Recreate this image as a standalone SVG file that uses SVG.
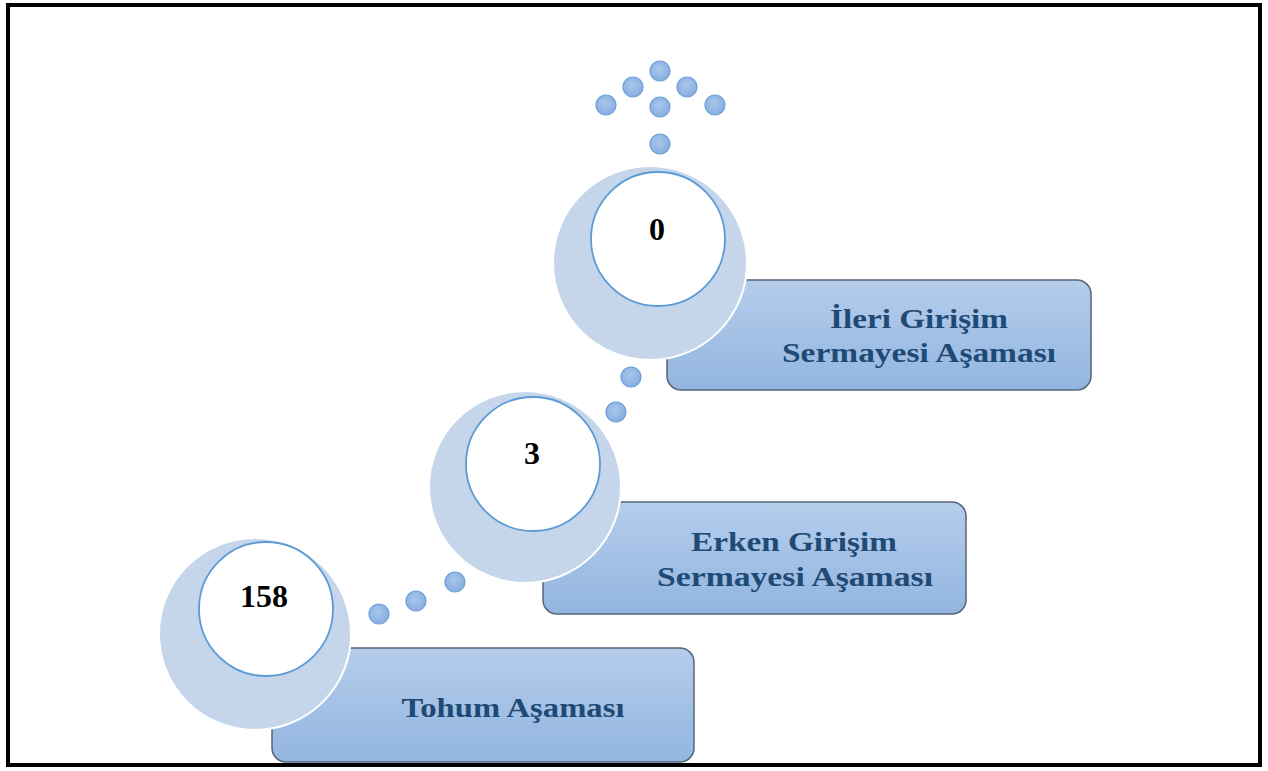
<svg xmlns="http://www.w3.org/2000/svg" width="1268" height="771" viewBox="0 0 1268 771">
  <defs>
    <linearGradient id="boxGrad" x1="0" y1="0" x2="0" y2="1">
      <stop offset="0" stop-color="#b5cdeb"/>
      <stop offset="1" stop-color="#92b5e0"/>
    </linearGradient>
    <radialGradient id="dotGrad" cx="0.45" cy="0.4" r="0.6">
      <stop offset="0" stop-color="#a9c7ec"/>
      <stop offset="1" stop-color="#86ade0"/>
    </radialGradient>
  </defs>
  <style>
    .frame { fill: #ffffff; stroke: #000000; stroke-width: 4; }
    .box { fill: url(#boxGrad); stroke: #56667a; stroke-width: 1.5; }
    .outer { fill: #c5d6eb; stroke: #ffffff; stroke-width: 2; }
    .inner { fill: #ffffff; stroke: #5b9bd5; stroke-width: 1.8; }
    .dot { fill: url(#dotGrad); stroke: #6b9fd8; stroke-width: 1.2; }
    .num { font-family: "Liberation Serif", "Times New Roman", serif; font-weight: bold; font-size: 32px; fill: #000000; text-anchor: middle; }
    .lbl { font-family: "Liberation Serif", "Times New Roman", serif; font-weight: bold; font-size: 28px; fill: #1f4a75; text-anchor: middle; }
  </style>

  <rect class="frame" x="8" y="5" width="1252" height="760"/>

  <g id="dots">
    <circle class="dot" cx="660" cy="71" r="10"/>
    <circle class="dot" cx="633" cy="87" r="10"/>
    <circle class="dot" cx="687" cy="87" r="10"/>
    <circle class="dot" cx="606" cy="105" r="10"/>
    <circle class="dot" cx="660" cy="107" r="10"/>
    <circle class="dot" cx="715" cy="105" r="10"/>
    <circle class="dot" cx="660" cy="144" r="10"/>
    <circle class="dot" cx="631" cy="377" r="10"/>
    <circle class="dot" cx="616" cy="412" r="10"/>
    <circle class="dot" cx="455" cy="582" r="10"/>
    <circle class="dot" cx="416" cy="601" r="10"/>
    <circle class="dot" cx="379" cy="614" r="10"/>
  </g>

  <g id="stage-ileri">
    <rect class="box" x="667" y="280" width="424" height="110" rx="14"/>
    <circle class="outer" cx="650" cy="263" r="97"/>
    <circle class="inner" cx="658" cy="239" r="67"/>
    <text class="num" x="657" y="240">0</text>
    <text class="lbl" x="919" y="328" textLength="178" lengthAdjust="spacingAndGlyphs">İleri Girişim</text>
    <text class="lbl" x="919" y="362" textLength="274" lengthAdjust="spacingAndGlyphs">Sermayesi Aşaması</text>
  </g>

  <g id="stage-erken">
    <rect class="box" x="543" y="502" width="423" height="112" rx="14"/>
    <circle class="outer" cx="525" cy="487" r="96"/>
    <circle class="inner" cx="533" cy="464" r="67"/>
    <text class="num" x="532" y="464">3</text>
    <text class="lbl" x="794" y="551" textLength="206" lengthAdjust="spacingAndGlyphs">Erken Girişim</text>
    <text class="lbl" x="795" y="586" textLength="276" lengthAdjust="spacingAndGlyphs">Sermayesi Aşaması</text>
  </g>

  <g id="stage-tohum">
    <rect class="box" x="272" y="648" width="422" height="114" rx="14"/>
    <circle class="outer" cx="255" cy="634" r="96"/>
    <circle class="inner" cx="266" cy="609" r="67"/>
    <text class="num" x="264" y="607">158</text>
    <text class="lbl" x="513" y="717" textLength="223" lengthAdjust="spacingAndGlyphs">Tohum Aşaması</text>
  </g>
</svg>
